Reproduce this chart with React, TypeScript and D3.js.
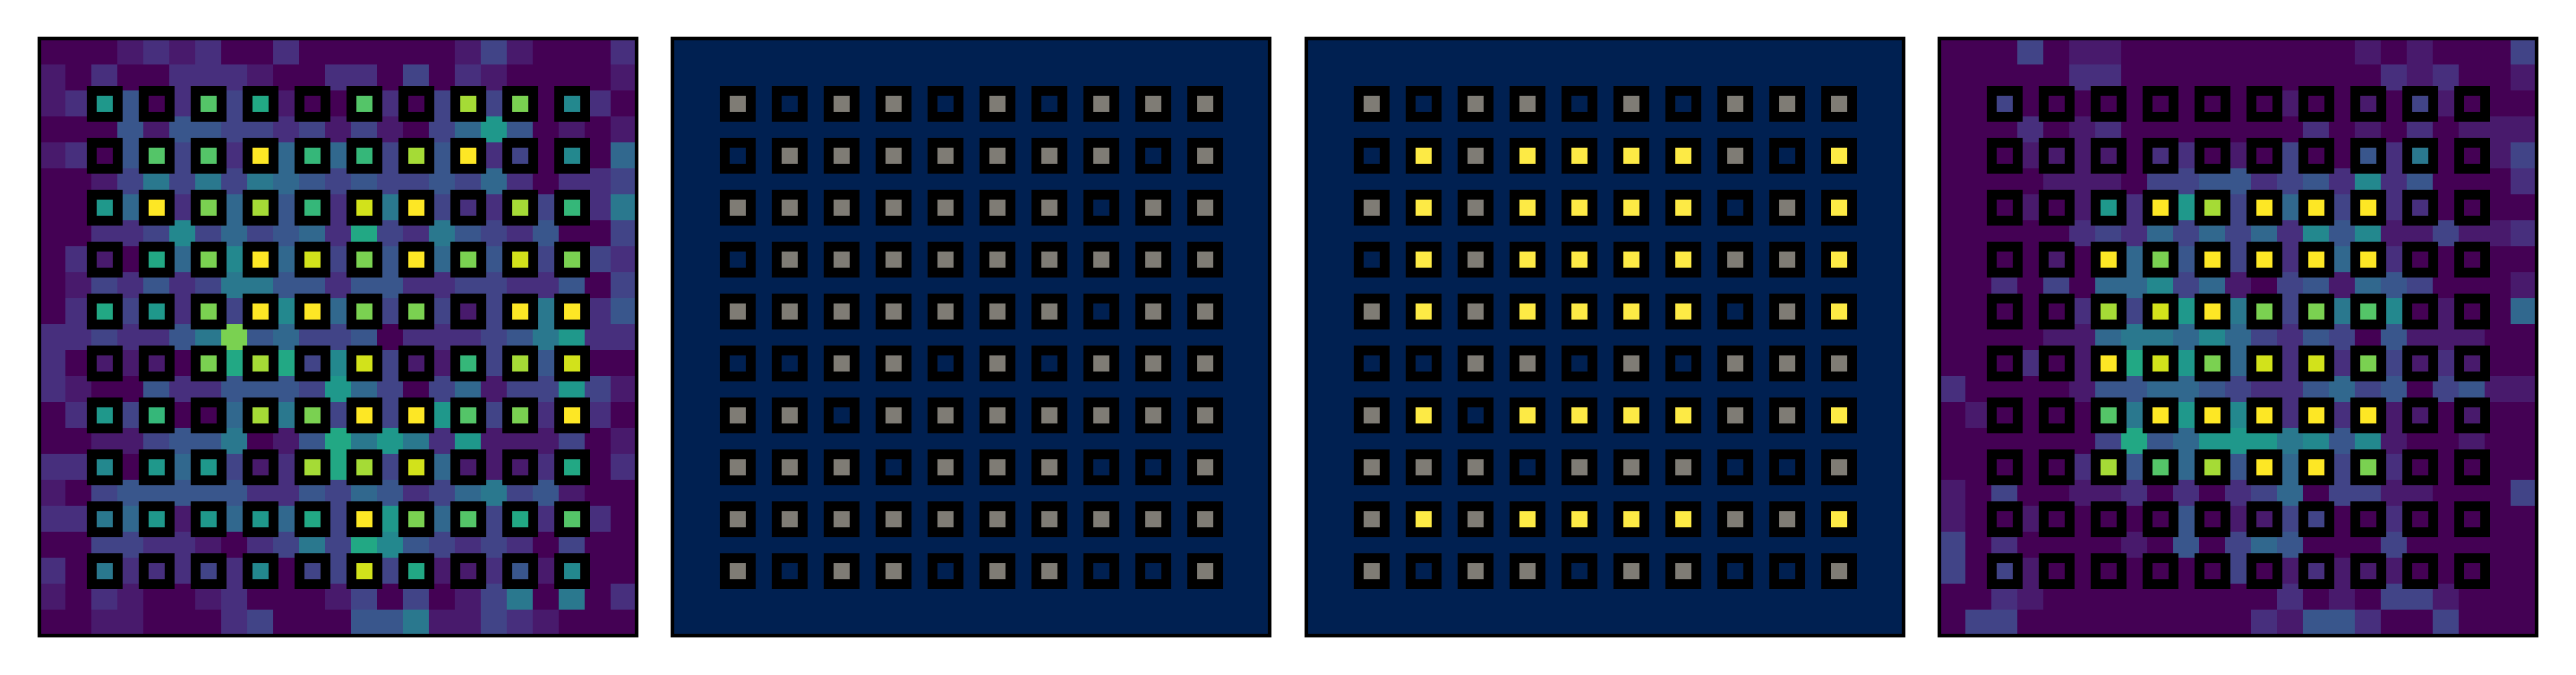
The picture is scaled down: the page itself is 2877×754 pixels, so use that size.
import * as d3 from 'd3';

const N = 23;
const levels = 15; // field rows are hex digits 0-f, value = digit / 15

// panel 1 (viridis)
const fieldA = [
  '00012120020000001310002',
  '10200222100220302100001',
  '128402b39100b203d3c0720',
  '00041443323131035840101',
  '1204b3b2f5a5a3d4f230705',
  '00136363654343343520223',
  '0085f2c5d4a2e6f322d3a26',
  '00223735345293264324003',
  '021095c7f5e3c4f5c4e3c32',
  '01324236644244223322403',
  '029382c3f7f5c3c313f6f24',
  '2232246c453340222346822',
  '201110c9d937e311a3d4e00',
  '21004224443853035133831',
  '0283a005d6c3f3f8b3c2f20',
  '00113446014968628111301',
  '2270858312d9d3e51112902',
  '10344444224354235634100',
  '226581858593f8c5b392b20',
  '00332210236397432320300',
  '206222327033e3911241700',
  '10210012000130301360602',
  '00110002300044611321000',
];

// panel 4 (viridis)
const fieldD = [
  '00030110000000001010003',
  '00000220000000000212001',
  '00300000000001001031000',
  '00020120000000201020111',
  '00011110220103004260013',
  '00001110334423427240002',
  '00010182f8d3f5f3f220000',
  '00000232535352747113112',
  '000010f5c4f3f2f5f200000',
  '00203055735103415430001',
  '000002d3e8f6c3c6b701005',
  '00001156657532430411100',
  '000201f9e8c5e2e2c312100',
  '20000144554322453403411',
  '010000b6f8f7f2f2f110100',
  '00000039458886747100100',
  '000002d4b5d4f5f3c200000',
  '10300112020235033110003',
  '10010000040113300200000',
  '30200001040354000300000',
  '30310000000301211100000',
  '00210000000002010331000',
  '03300000000021442003000',
];

// panels 2 and 3 (cividis): only the sampled points, 0 / 1 / 2 -> 0, 0.5, 1
const sampledB = [
  '1011010111',
  '0111111101',
  '1111111011',
  '0111111111',
  '1111111011',
  '0011010111',
  '1101111111',
  '1110111001',
  '1111111111',
  '1011011001',
];
const sampledC = [
  '1011010111',
  '0212222102',
  '1212222012',
  '0212222112',
  '1212222012',
  '0011010111',
  '1202222112',
  '1110111001',
  '1212222112',
  '1011011001',
];

const points = d3.range(2, 21, 2);

function parseField(rows: string[]) {
  return rows.map(r => r.split('').map(c => parseInt(c, 16) / levels));
}

function fromSamples(rows: string[]) {
  const grid = d3.range(N).map(() => d3.range(N).map(() => 0));
  rows.forEach((r, i) => r.split('').forEach((c, j) => {
    grid[points[i]][points[j]] = +c / 2;
  }));
  return grid;
}

const panels = [
  { grid: parseField(fieldA), color: d3.interpolateViridis },
  { grid: fromSamples(sampledB), color: d3.interpolateCividis },
  { grid: fromSamples(sampledC), color: d3.interpolateCividis },
  { grid: parseField(fieldD), color: d3.interpolateViridis },
];

const panelX = [44, 751, 1459, 2166];
const top = 43;
const size = 667;

export default function App() {
  const band = d3.scaleBand<number>().domain(d3.range(N)).range([0, size]);
  const bw = band.bandwidth();

  return (
    <svg width={2877} height={754} style={{ position: 'absolute', left: 0, top: 0, background: '#fff' }}>
      {panels.map((p, k) => (
        <g key={k} transform={`translate(${panelX[k]},${top})`}>
          <g shapeRendering="crispEdges">
            {p.grid.map((row, i) => row.map((v, j) => (
              <rect key={`${i}-${j}`} x={band(j)} y={band(i)} width={bw} height={bw} fill={p.color(v)} />
            )))}
          </g>
          {/* hollow square markers on the sample lattice */}
          <g shapeRendering="crispEdges">
            {points.map(i => points.map(j => (
              <rect key={`m${i}-${j}`} x={band(j)!} y={band(i)!} width={bw} height={bw}
                fill="none" stroke="#000" strokeWidth={11} />
            )))}
          </g>
          <rect x={0} y={0} width={size} height={size} fill="none" stroke="#000" strokeWidth={4} />
        </g>
      ))}
    </svg>
  );
}
